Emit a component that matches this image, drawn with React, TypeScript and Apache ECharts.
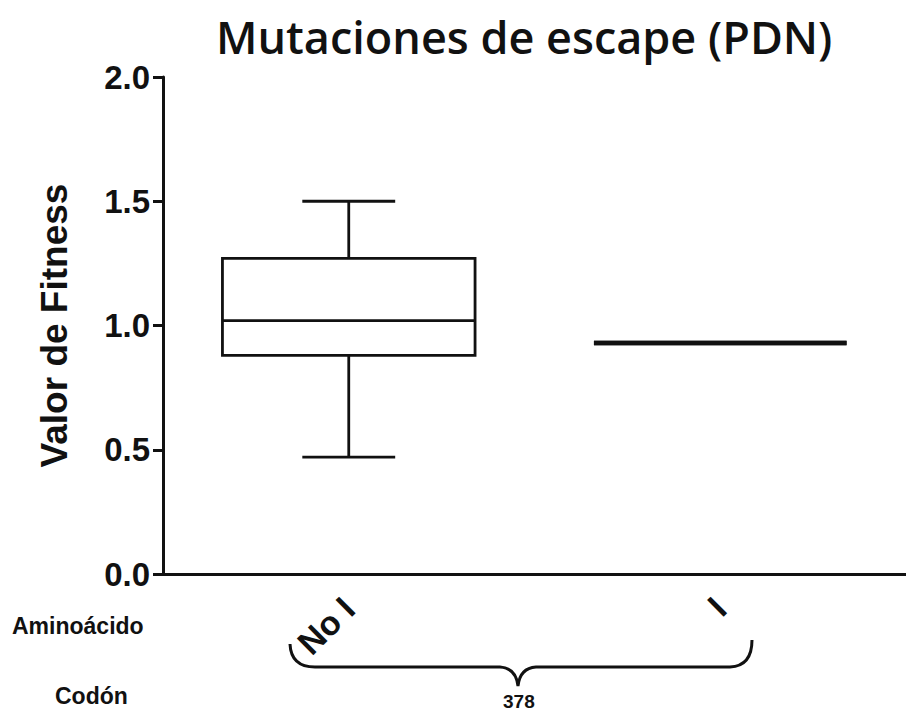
import React, { useEffect, useRef } from "react";
import * as echarts from "echarts";

const categories = ["No I", "I"];
const lowerWhisker = [0.47, 0.93];
const q1 = [0.88, 0.93];
const median = [1.02, 0.93];
const q3 = [1.27, 0.93];
const upperWhisker = [1.5, 0.93];
const yTicks = [0, 0.5, 1.0, 1.5, 2.0];

const titleText = "Mutaciones de escape (PDN)";
const yName = "Valor de Fitness";
const rowLabel1 = "Aminoácido";
const rowLabel2 = "Codón";
const codonLabel = "378";

const BRACE_D =
  "M 290 644 Q 291 667 315 667 L 500 667 Q 516 668 518 686 Q 520 668 536 667 L 730 667 Q 752 666 752 640";

let registered = false;
function ensureShape() {
  if (registered) return;
  echarts.graphic.registerShape("brace", echarts.graphic.extendPath(BRACE_D, {}) as any);
  registered = true;
}

export default function App() {
  const ref = useRef<HTMLDivElement>(null);
  useEffect(() => {
    if (!ref.current) return;
    ensureShape();
    const chart = echarts.init(ref.current, null, { renderer: "svg" });
    const data = categories.map((_, i) => [i, lowerWhisker[i], q1[i], median[i], q3[i], upperWhisker[i]]);
    const font = "'Liberation Sans', Arial, sans-serif";
    chart.setOption({
      animation: false,
      backgroundColor: "#ffffff",
      title: {
        text: titleText,
        left: 211,
        top: 9,
        textStyle: { fontFamily: "'Open Sans', sans-serif", fontSize: 45, fontWeight: 600, color: "#111" },
      },
      grid: { left: 163, right: 0, top: 77, bottom: 140 },
      xAxis: {
        type: "category",
        data: categories,
        axisLine: { lineStyle: { color: "#111", width: 3 } },
        axisTick: { alignWithLabel: true, length: 12, lineStyle: { color: "#111", width: 3 } },
        axisLabel: { rotate: 45, margin: 29, fontFamily: font, fontWeight: "bold", fontSize: 34, color: "#111" },
        splitLine: { show: false },
      },
      yAxis: {
        type: "value",
        min: yTicks[0],
        max: yTicks[yTicks.length - 1],
        interval: 0.5,
        name: yName,
        nameLocation: "middle",
        nameGap: 90,
        nameTextStyle: { fontFamily: font, fontWeight: "bold", fontSize: 37, color: "#111" },
        axisLine: { show: true, lineStyle: { color: "#111", width: 3 } },
        axisTick: { show: true, length: 10, lineStyle: { color: "#111", width: 3 } },
        axisLabel: {
          margin: 13,
          fontFamily: font,
          fontWeight: "bold",
          fontSize: 33,
          color: "#111",
          formatter: (v: number) => v.toFixed(1),
        },
        splitLine: { show: false },
      },
      series: [
        {
          type: "custom",
          data,
          encode: { x: 0, y: [1, 2, 3, 4, 5] },
          renderItem: (params: any, api: any) => {
            const idx = api.value(0);
            const band = api.size([1, 0])[0];
            const boxW = band * 0.68;
            const capW = band * 0.25;
            const pLow = api.coord([idx, api.value(1)]);
            const pQ1 = api.coord([idx, api.value(2)]);
            const pMed = api.coord([idx, api.value(3)]);
            const pQ3 = api.coord([idx, api.value(4)]);
            const pHigh = api.coord([idx, api.value(5)]);
            const cx = pMed[0];
            const flat = Math.abs(pQ1[1] - pQ3[1]) < 1;
            const lw = flat ? 4.5 : 2.8;
            const st = { stroke: "#111", lineWidth: lw, fill: "none" };
            const children: any[] = [];
            children.push({
              type: "rect",
              shape: { x: cx - boxW / 2, y: pQ3[1], width: boxW, height: pQ1[1] - pQ3[1] },
              style: st,
            });
            children.push({ type: "line", shape: { x1: cx - boxW / 2, y1: pMed[1], x2: cx + boxW / 2, y2: pMed[1] }, style: st });
            if (!flat) {
              children.push({ type: "line", shape: { x1: cx, y1: pQ3[1], x2: cx, y2: pHigh[1] }, style: st });
              children.push({ type: "line", shape: { x1: cx, y1: pQ1[1], x2: cx, y2: pLow[1] }, style: st });
              children.push({ type: "line", shape: { x1: cx - capW / 2, y1: pHigh[1], x2: cx + capW / 2, y2: pHigh[1] }, style: st });
              children.push({ type: "line", shape: { x1: cx - capW / 2, y1: pLow[1], x2: cx + capW / 2, y2: pLow[1] }, style: st });
            }
            return { type: "group", children };
          },
        },
      ],
      graphic: [
        { type: "brace", x: 0, y: 0, style: { stroke: "#111", lineWidth: 3, fill: "none" } },
        {
          type: "text",
          left: 12,
          top: 614,
          style: { text: rowLabel1, fontFamily: font, fontWeight: "bold", fontSize: 23, fill: "#111" },
        },
        {
          type: "text",
          left: 55,
          top: 684,
          style: { text: rowLabel2, fontFamily: font, fontWeight: "bold", fontSize: 23, fill: "#111" },
        },
        {
          type: "text",
          left: 503,
          top: 692,
          style: { text: codonLabel, fontFamily: font, fontWeight: "bold", fontSize: 19, fill: "#111" },
        },
      ],
    });
    return () => chart.dispose();
  }, []);
  return <div ref={ref} style={{ width: 906, height: 714, position: "absolute", left: 0, top: 0 }} />;
}
